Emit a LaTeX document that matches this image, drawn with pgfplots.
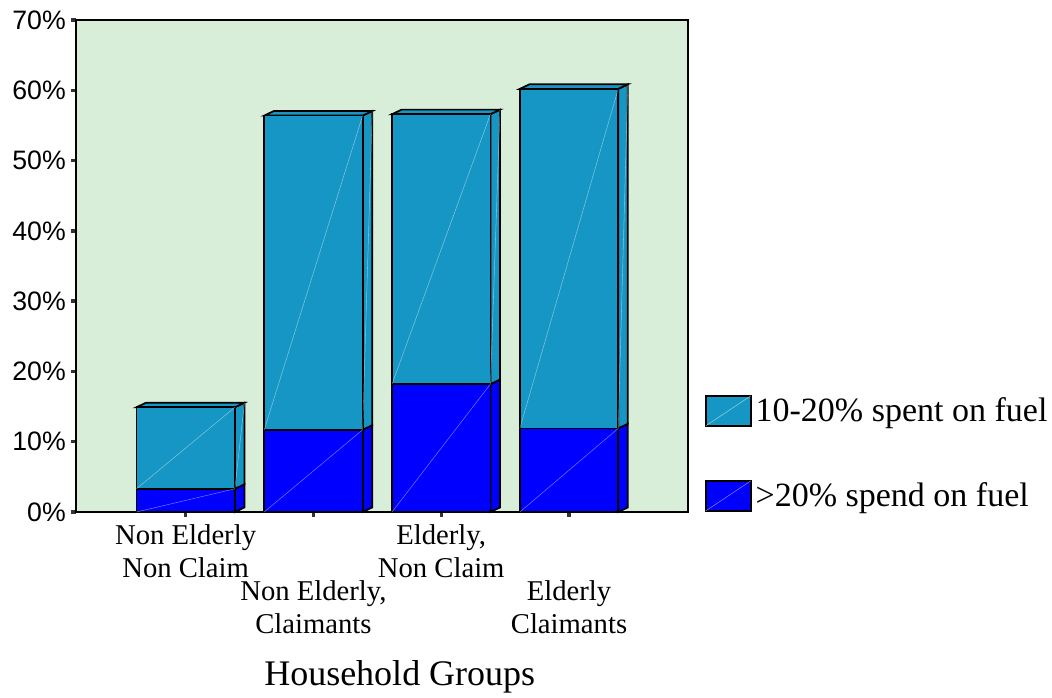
\documentclass[border=0pt]{standalone}
\usepackage{pgfplots}
\pgfplotsset{compat=1.18}
\usepackage{fontspec}
\setmainfont{Liberation Serif}
\newfontfamily\arial{Liberation Sans}
\definecolor{bgc}{RGB}{216,238,216}
\definecolor{tealc}{RGB}{22,150,196}
\definecolor{bluec}{RGB}{0,0,255}
\begin{document}
\begin{tikzpicture}
\begin{axis}[
 at={(0,0)}, anchor=south west,
 scale only axis, width=459pt, height=369pt,
 xmin=-0.858, xmax=3.931, ymin=0, ymax=70,
 clip=false,
 axis background/.style={fill=bgc},
 axis line style={line width=1.2pt},
 tick align=outside, major tick length=3.5pt,
 tick style={line width=2.5pt, black!80},
 xtick pos=bottom, ytick pos=left,
 xtick={0,2}, xticklabels={{Non Elderly\\Non Claim},{Elderly,\\Non Claim}},
 extra x ticks={1,3}, extra x tick labels={{Non Elderly,\\Claimants},{Elderly\\Claimants}},
 extra x tick style={xticklabel style={yshift=-42pt}},
 xticklabel style={font=\fontsize{21.5}{24.75}\selectfont, align=center, inner sep=0pt, yshift=-6pt},
 ytick={0,10,...,70}, yticklabels={0\%,10\%,20\%,30\%,40\%,50\%,60\%,70\%},
 yticklabel style={font=\arial\fontsize{20}{24}\selectfont, inner sep=4pt},
 /pgf/number format/assume math mode=true,
 xlabel={Household Groups},
 xlabel style={font=\fontsize{27}{30}\selectfont, at={(rel axis cs:0.529,0)}, anchor=base, yshift=-129.75pt},
 legend style={draw=none, fill=none, at={(rel axis cs:1,0)}, anchor=south west, xshift=12.5pt,
   inner sep=0pt, row sep=40pt, column sep=3pt, font=\fontsize{25.5}{30}\selectfont, nodes={inner sep=0pt}},
 legend cell align=left,
 unbounded coords=jump,
]
% side faces and top faces (depth)
\addplot[fill=bluec, draw=black, line width=1.3pt, forget plot] coordinates {(0.385,0) (0.46,0.65) (0.46,3.95) (0.385,3.3)} --cycle;
\addplot[fill=tealc, draw=black, line width=1.3pt, forget plot] coordinates {(0.385,3.3) (0.46,3.95) (0.46,15.55) (0.385,14.9)} --cycle;
\addplot[fill=tealc, draw=black, line width=1.3pt, forget plot] coordinates {(-0.385,14.9) (-0.31,15.55) (0.46,15.55) (0.385,14.9)} --cycle;

\addplot[fill=bluec, draw=black, line width=1.3pt, forget plot] coordinates {(1.385,0) (1.46,0.65) (1.46,12.35) (1.385,11.7)} --cycle;
\addplot[fill=tealc, draw=black, line width=1.3pt, forget plot] coordinates {(1.385,11.7) (1.46,12.35) (1.46,57.05) (1.385,56.4)} --cycle;
\addplot[fill=tealc, draw=black, line width=1.3pt, forget plot] coordinates {(0.615,56.4) (0.69,57.05) (1.46,57.05) (1.385,56.4)} --cycle;

\addplot[fill=bluec, draw=black, line width=1.3pt, forget plot] coordinates {(2.385,0) (2.46,0.65) (2.46,18.85) (2.385,18.2)} --cycle;
\addplot[fill=tealc, draw=black, line width=1.3pt, forget plot] coordinates {(2.385,18.2) (2.46,18.85) (2.46,57.25) (2.385,56.6)} --cycle;
\addplot[fill=tealc, draw=black, line width=1.3pt, forget plot] coordinates {(1.615,56.6) (1.69,57.25) (2.46,57.25) (2.385,56.6)} --cycle;

\addplot[fill=bluec, draw=black, line width=1.3pt, forget plot] coordinates {(3.385,0) (3.46,0.65) (3.46,12.55) (3.385,11.9)} --cycle;
\addplot[fill=tealc, draw=black, line width=1.3pt, forget plot] coordinates {(3.385,11.9) (3.46,12.55) (3.46,60.85) (3.385,60.2)} --cycle;
\addplot[fill=tealc, draw=black, line width=1.3pt, forget plot] coordinates {(2.615,60.2) (2.69,60.85) (3.46,60.85) (3.385,60.2)} --cycle;

% front faces: total (10-20% on top) then >20% at the bottom
\addplot[ybar, bar width=0.77, bar shift=0pt, fill=tealc, draw=black, line width=1.3pt,
  legend image code/.code={\draw[fill=tealc, draw=black, line width=1.3pt] (0pt,-11.25pt) rectangle (33.75pt,11.25pt);
    \draw[white, opacity=0.45, line width=0.4pt] (0pt,-11.25pt) -- (33.75pt,11.25pt);}]
  coordinates {(0,14.9) (1,56.4) (2,56.6) (3,60.2)};
\addlegendentry{10-20\% spent on fuel}
\addplot[ybar, bar width=0.77, bar shift=0pt, fill=bluec, draw=black, line width=1.3pt,
  legend image code/.code={\draw[fill=bluec, draw=black, line width=1.3pt] (0pt,-11.25pt) rectangle (33.75pt,11.25pt);
    \draw[white, opacity=0.45, line width=0.4pt] (0pt,-11.25pt) -- (33.75pt,11.25pt);}]
  coordinates {(0,3.3) (1,11.7) (2,18.2) (3,11.9)};
\addlegendentry{>20\% spend on fuel}

% faint diagonals on the faces
\addplot[white, opacity=0.45, line width=0.4pt, forget plot] coordinates {
 (-0.385,0) (0.385,3.3) (nan,nan) (-0.385,3.3) (0.385,14.9) (nan,nan)
 (0.615,0) (1.385,11.7) (nan,nan) (0.615,11.7) (1.385,56.4) (nan,nan)
 (1.615,0) (2.385,18.2) (nan,nan) (1.615,18.2) (2.385,56.6) (nan,nan)
 (2.615,0) (3.385,11.9) (nan,nan) (2.615,11.9) (3.385,60.2) (nan,nan)
 (0.385,3.3) (0.46,15.55) (nan,nan) (1.385,11.7) (1.46,57.05) (nan,nan)
 (2.385,18.2) (2.46,57.25) (nan,nan) (3.385,11.9) (3.46,60.85)};
\end{axis}
\pgfresetboundingbox
\path[use as bounding box] (-57pt,-138.75pt) rectangle (732pt,384pt);
\end{tikzpicture}
\end{document}
